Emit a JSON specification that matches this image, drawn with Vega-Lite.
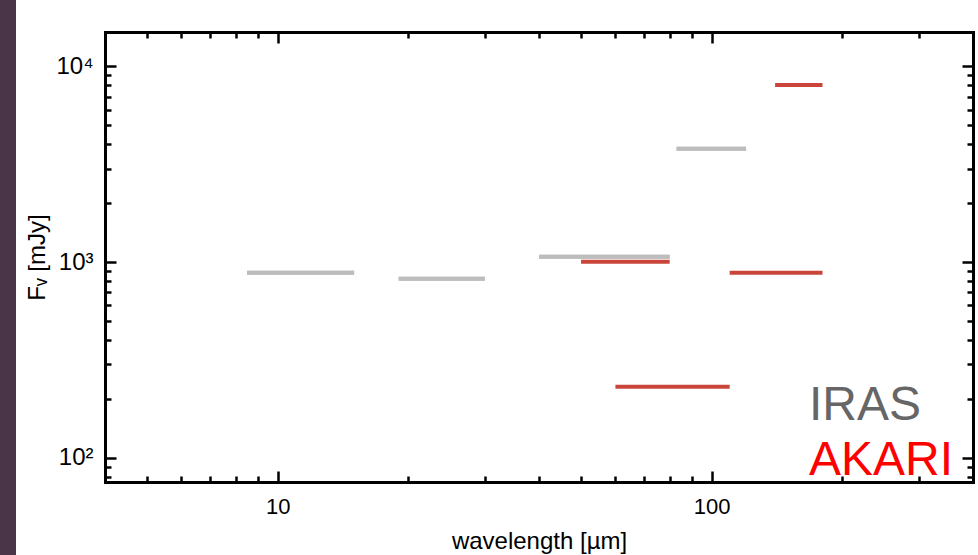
{
  "$schema": "https://vega.github.io/schema/vega-lite/v6.json",
  "width": 868,
  "height": 450,
  "autosize": {"type": "none"},
  "padding": {"left": 105, "top": 32, "right": 5, "bottom": 73},
  "background": "#4a3548",
  "config": {
    "font": "Liberation Sans",
    "view": {"fill": "white", "stroke": "white", "strokeWidth": 178},
    "axis": {"domainColor": "black", "domainWidth": 3, "domainCap": "square", "tickColor": "black", "tickWidth": 2.5, "grid": false, "labelColor": "black", "titleColor": "black", "labelFont": "Liberation Sans", "titleFont": "Liberation Sans", "labelFontSize": 22, "titleFontSize": 24, "titleFontWeight": "normal"}
  },
  "data": {
    "values": [
      {"mission": "IRAS", "wl_min": 8.5, "wl_max": 15, "flux": 880},
      {"mission": "IRAS", "wl_min": 19, "wl_max": 30, "flux": 820},
      {"mission": "IRAS", "wl_min": 40, "wl_max": 80, "flux": 1063},
      {"mission": "IRAS", "wl_min": 83, "wl_max": 120, "flux": 3790},
      {"mission": "AKARI", "wl_min": 50, "wl_max": 80, "flux": 1002},
      {"mission": "AKARI", "wl_min": 60, "wl_max": 110, "flux": 230},
      {"mission": "AKARI", "wl_min": 110, "wl_max": 180, "flux": 880},
      {"mission": "AKARI", "wl_min": 140, "wl_max": 180, "flux": 8040}
    ]
  },
  "encoding": {
    "color": {
      "field": "mission",
      "type": "nominal",
      "scale": {"domain": ["IRAS", "AKARI"], "range": ["#bdbdbd", "#c9443a"]},
      "legend": {
        "title": null,
        "orient": "none",
        "legendX": 656,
        "legendY": 350,
        "padding": 0,
        "symbolSize": 0,
        "symbolOpacity": 0,
        "symbolStrokeWidth": 0,
        "labelOffset": 0,
        "labelFont": "Liberation Sans",
        "labelFontSize": 48,
        "labelLimit": 500,
        "rowPadding": 7,
        "encode": {"labels": {"update": {"fill": {"signal": "datum.label == 'IRAS' ? '#666666' : '#ff0000'"}}}}
      }
    }
  },
  "layer": [
    {
      "transform": [{"filter": "datum.mission == 'IRAS'"}],
      "mark": {"type": "rule", "strokeWidth": 4},
      "encoding": {
        "x": {"field": "wl_min", "type": "quantitative", "scale": {"type": "log", "domain": [4, 400], "nice": false},
          "axis": {"orient": "bottom", "values": [10, 100], "ticks": false, "labelPadding": 14, "title": "wavelength [µm]", "titlePadding": 12, "format": "d"}},
        "x2": {"field": "wl_max"},
        "y": {"field": "flux", "type": "quantitative", "scale": {"type": "log", "domain": [75, 15000], "nice": false},
          "axis": {"orient": "left", "values": [100, 1000, 10000], "ticks": false, "labelPadding": 12, "labelFontSize": 24, "labelExpr": "datum.value == 100 ? '10²' : datum.value == 1000 ? '10³' : '10⁴'", "title": "Fᵥ [mJy]", "titlePadding": 6}}
      }
    },
    {
      "transform": [{"filter": "datum.mission == 'AKARI'"}],
      "mark": {"type": "rule", "strokeWidth": 4},
      "encoding": {
        "x": {"field": "wl_min", "type": "quantitative", "scale": {"type": "log", "domain": [4, 400], "nice": false},
          "axis": {"orient": "top", "values": [5, 6, 7, 8, 9, 10, 20, 30, 40, 50, 60, 70, 80, 90, 100, 200, 300], "labels": false, "title": null,
            "tickSize": {"condition": {"test": "datum.value == 10 || datum.value == 100", "value": -11}, "value": -6}}},
        "x2": {"field": "wl_max"},
        "y": {"field": "flux", "type": "quantitative", "scale": {"type": "log", "domain": [75, 15000], "nice": false},
          "axis": {"orient": "right", "values": [80, 90, 100, 200, 300, 400, 500, 600, 700, 800, 900, 1000, 2000, 3000, 4000, 5000, 6000, 7000, 8000, 9000, 10000], "labels": false, "title": null,
            "tickSize": {"condition": {"test": "datum.value == 100 || datum.value == 1000 || datum.value == 10000", "value": -11}, "value": -6}}}
      }
    },
    {
      "transform": [{"filter": "datum.mission == 'IRAS'"}],
      "mark": {"type": "rule", "strokeWidth": 4},
      "encoding": {
        "x": {"field": "wl_min", "type": "quantitative", "scale": {"type": "log", "domain": [4, 400], "nice": false},
          "axis": {"orient": "bottom", "values": [5, 6, 7, 8, 9, 10, 20, 30, 40, 50, 60, 70, 80, 90, 100, 200, 300], "labels": false, "title": null, "domain": false,
            "tickSize": {"condition": {"test": "datum.value == 10 || datum.value == 100", "value": -11}, "value": -6}}},
        "x2": {"field": "wl_max"},
        "y": {"field": "flux", "type": "quantitative", "scale": {"type": "log", "domain": [75, 15000], "nice": false},
          "axis": {"orient": "left", "values": [80, 90, 100, 200, 300, 400, 500, 600, 700, 800, 900, 1000, 2000, 3000, 4000, 5000, 6000, 7000, 8000, 9000, 10000], "labels": false, "title": null, "domain": false,
            "tickSize": {"condition": {"test": "datum.value == 100 || datum.value == 1000 || datum.value == 10000", "value": -11}, "value": -6}}}
      }
    }
  ],
  "resolve": {"axis": {"x": "independent", "y": "independent"}}
}
